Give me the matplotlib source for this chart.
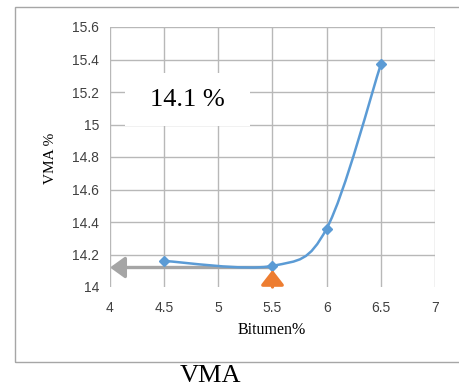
import matplotlib
matplotlib.use('Agg')
import matplotlib.pyplot as plt
from matplotlib.path import Path
from matplotlib.patches import PathPatch, Rectangle
import numpy as np

# values
bitumen = [4.5, 5.5, 6.0, 6.5]
vma = [14.16, 14.13, 14.36, 15.37]
optimum_bitumen = 5.5
optimum_vma = 14.12
optimum_label = '14.1 %'
x_ticks = [4, 4.5, 5, 5.5, 6, 6.5, 7]
x_tick_labels = ['4', '4.5', '5', '5.5', '6', '6.5', '7']
y_ticks = [14, 14.2, 14.4, 14.6, 14.8, 15, 15.2, 15.4, 15.6]
y_tick_labels = ['14', '14.2', '14.4', '14.6', '14.8', '15', '15.2', '15.4', '15.6']

BLUE = '#5b9bd5'
GRID = '#b8b8b8'
SERIF = 'Liberation Serif'
SANS = 'Liberation Sans'


def smooth_path(xs, ys):
    # Excel style smoothed line: cubic Bezier pieces through the points
    pts = np.column_stack([xs, ys])
    n = len(pts)
    verts = [pts[0]]
    codes = [Path.MOVETO]
    for i in range(n - 1):
        p0 = pts[max(i - 1, 0)]
        p1 = pts[i]
        p2 = pts[i + 1]
        p3 = pts[min(i + 2, n - 1)]
        verts += [p1 + (p2 - p0) / 6, p2 - (p3 - p1) / 6, p2]
        codes += [Path.CURVE4] * 3
    return Path(verts, codes)


fig = plt.figure(figsize=(4.59, 3.9), dpi=100)
fig.add_artist(Rectangle((15 / 459, 1 - 362 / 390), 1.0, 355 / 390,
                         transform=fig.transFigure, fill=False,
                         edgecolor='#a6a6a6', lw=1))

ax = fig.add_axes([110 / 459, 1 - 287 / 390, 325 / 459, 260 / 390])
ax.set_xlim(4, 7)
ax.set_ylim(14, 15.6)
ax.set_xticks(x_ticks)
ax.set_xticklabels(x_tick_labels)
ax.set_yticks(y_ticks)
ax.set_yticklabels(y_tick_labels)
ax.tick_params(length=0, labelsize=10, labelcolor='#404040')
ax.tick_params(axis='x', pad=10)
ax.tick_params(axis='y', pad=8)
for lab in ax.get_xticklabels() + ax.get_yticklabels():
    lab.set_family(SANS)
for s in ax.spines.values():
    s.set_visible(False)
ax.grid(True, color=GRID, lw=1)
ax.set_axisbelow(True)
ax.yaxis.get_gridlines()[0].set_visible(False)

ax.add_patch(PathPatch(smooth_path(bitumen, vma), fill=False,
                       edgecolor=BLUE, lw=1.8, zorder=3))
ax.plot(bitumen, vma, linestyle='none', marker='D', markersize=5,
        color=BLUE, zorder=4)

# optimum arrows
ax.annotate('', xy=(4, optimum_vma), xytext=(optimum_bitumen, optimum_vma),
            arrowprops=dict(arrowstyle='-|>,head_length=9,head_width=6.5',
                            mutation_scale=1, color='#a5a5a5', lw=2.4,
                            shrinkA=0, shrinkB=0),
            annotation_clip=False, zorder=2)
ax.annotate('', xy=(optimum_bitumen, 14.105), xytext=(optimum_bitumen, 14.0),
            arrowprops=dict(arrowstyle='-|>,head_length=9,head_width=7',
                            mutation_scale=1, color='#ed7d31', lw=2.4,
                            shrinkA=0, shrinkB=0),
            annotation_clip=False, zorder=5)

# value box
ax.add_patch(Rectangle((15 / 325, 1 - 99 / 260), 125 / 325, 53 / 260,
                       transform=ax.transAxes, facecolor='white',
                       edgecolor='none', zorder=2))
ax.text(77 / 325, 1 - 73 / 260, optimum_label, transform=ax.transAxes,
        ha='center', va='center', family=SERIF, fontsize=19, zorder=3)

ax.set_xlabel('Bitumen%', family=SERIF, fontsize=11.5, va='center')
ax.xaxis.set_label_coords(0.498, -43 / 260)
ax.set_ylabel('VMA %', family=SERIF, fontsize=11, va='center')
ax.yaxis.set_label_coords(-59 / 325, 0.496)

fig.text(210 / 459, 1 - 376 / 390, 'VMA', ha='center', va='center',
         family=SERIF, fontsize=19)

fig.savefig('out.png', dpi=100)
